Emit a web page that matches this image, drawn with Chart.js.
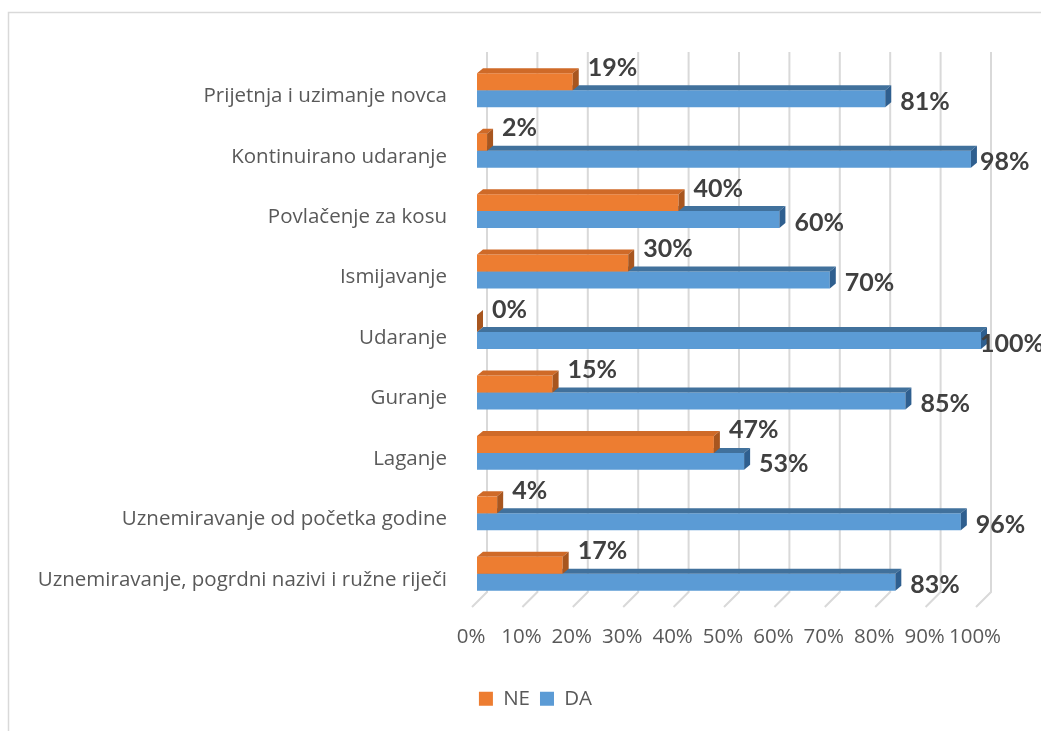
<!DOCTYPE html>
<html>
<head>
<meta charset="utf-8">
<script src="https://cdn.jsdelivr.net/npm/chart.js@4.4.1/dist/chart.umd.min.js"></script>
<style>
body { margin: 0; background: #fff; }
</style>
</head>
<body>
<canvas id="myChart" width="1041" height="731"></canvas>
<script>
const kategorije = [
    'Prijetnja i uzimanje novca',
    'Kontinuirano udaranje',
    'Povlačenje za kosu',
    'Ismijavanje',
    'Udaranje',
    'Guranje',
    'Laganje',
    'Uznemiravanje od početka godine',
    'Uznemiravanje, pogrdni nazivi i ružne riječi'
]
const ne = [19, 2, 40, 30, 0, 15, 47, 4, 17]
const da = [81, 98, 60, 70, 100, 85, 53, 96, 83]
const xTicks = [0, 10, 20, 30, 40, 50, 60, 70, 80, 90, 100]

const sivaSlova = '#595959'
const font = { family: 'Open Sans', size: 20.5 }

// svijetli okvir oko grafikona
const okvir = {
    id: 'okvir',
    beforeDraw(chart) {
        const ctx = chart.ctx
        ctx.save()
        ctx.strokeStyle = '#d9d9d9'
        ctx.lineWidth = 1.5
        ctx.strokeRect(8.5, 12.5, 1200, 1000)
        ctx.restore()
    }
}

// 3D mreza: zadnji zid + pod
const mreza = {
    id: 'mreza',
    beforeDatasetsDraw(chart) {
        const ctx = chart.ctx
        const x = chart.scales.x
        const area = chart.chartArea
        ctx.save()
        ctx.strokeStyle = '#d9d9d9'
        ctx.lineWidth = 2
        xTicks.forEach((v) => {
            const px = x.getPixelForValue(v)
            ctx.beginPath()
            ctx.moveTo(px + 10, area.top - 8)
            ctx.lineTo(px + 10, area.bottom - 12)
            ctx.lineTo(px - 5, area.bottom + 3)
            ctx.stroke()
        })
        ctx.restore()
    }
}

// gornja i desna strana stupca
const boje3d = [
    { gore: '#cf6a28', desno: '#a8561f' },
    { gore: '#41719c', desno: '#2f5f8f' }
]
const dubina = {
    id: 'dubina',
    afterDatasetDraw(chart, args) {
        const ctx = chart.ctx
        const b = boje3d[args.index]
        const dx = 6, dy = -5
        ctx.save()
        args.meta.data.forEach((el) => {
            const p = el.getProps(['x', 'y', 'base', 'height'], true)
            const top = p.y - p.height / 2
            const bot = p.y + p.height / 2
            ctx.fillStyle = b.gore
            ctx.beginPath()
            ctx.moveTo(p.base, top)
            ctx.lineTo(p.x, top)
            ctx.lineTo(p.x + dx, top + dy)
            ctx.lineTo(p.base + dx, top + dy)
            ctx.closePath()
            ctx.fill()
            ctx.fillStyle = b.desno
            ctx.beginPath()
            ctx.moveTo(p.x, top)
            ctx.lineTo(p.x, bot)
            ctx.lineTo(p.x + dx, bot + dy)
            ctx.lineTo(p.x + dx, top + dy)
            ctx.closePath()
            ctx.fill()
        })
        ctx.restore()
    }
}

// postotci uz stupce
const oznake = {
    id: 'oznake',
    afterDatasetsDraw(chart) {
        const ctx = chart.ctx
        ctx.save()
        ctx.font = 'bold 25px Lato'
        ctx.fillStyle = '#404040'
        ctx.textAlign = 'left'
        ctx.textBaseline = 'middle'
        chart.data.datasets.forEach((ds, i) => {
            chart.getDatasetMeta(i).data.forEach((el, j) => {
                const txt = ds.data[j] + '%'
                if (i == 0) {
                    ctx.fillText(txt, el.x + 15, el.y - 14)
                } else {
                    ctx.fillText(txt, Math.min(el.x + 15, 980), el.y + 3)
                }
            })
        })
        ctx.restore()
    }
}

const data = {
    labels: kategorije,
    datasets: [{
        label: 'NE',
        backgroundColor: '#ed7d31',
        data: ne
    }, {
        label: 'DA',
        backgroundColor: '#5b9bd5',
        data: da
    }]
}

const config = {
    type: 'bar',
    data: data,
    options: {
        indexAxis: 'y',
        responsive: false,
        animation: false,
        categoryPercentage: 0.562,
        barPercentage: 1,
        layout: {
            padding: { left: 30, right: 0, top: 60, bottom: 12 }
        },
        scales: {
            x: {
                min: 0,
                max: 100,
                afterBuildTicks: (s) => { s.ticks = xTicks.map((v) => ({ value: v })) },
                afterFit: (s) => { s.height = 74.5 },
                grid: { display: false, drawTicks: false },
                border: { display: false },
                ticks: {
                    callback: (v) => v + '%',
                    padding: 21,
                    labelOffset: -6,
                    maxRotation: 0,
                    autoSkip: false,
                    color: sivaSlova,
                    font: font
                }
            },
            y: {
                afterFit: (s) => { s.width = 447 },
                grid: { display: false, drawTicks: false },
                border: { display: false },
                ticks: {
                    padding: 30,
                    labelOffset: 6,
                    autoSkip: false,
                    color: sivaSlova,
                    font: font
                }
            },
            // prazan prostor desno (za oznake)
            desno: {
                type: 'category',
                position: 'right',
                afterFit: (s) => { s.width = 60 },
                grid: { display: false, drawTicks: false },
                border: { display: false },
                ticks: { display: false }
            }
        },
        plugins: {
            tooltip: { enabled: false },
            legend: {
                position: 'bottom',
                labels: {
                    boxWidth: 14,
                    boxHeight: 14,
                    padding: 10,
                    color: sivaSlova,
                    font: font
                }
            }
        }
    },
    plugins: [okvir, mreza, dubina, oznake]
}

const myChart = new Chart(document.getElementById('myChart'), config)
</script>
</body>
</html>
